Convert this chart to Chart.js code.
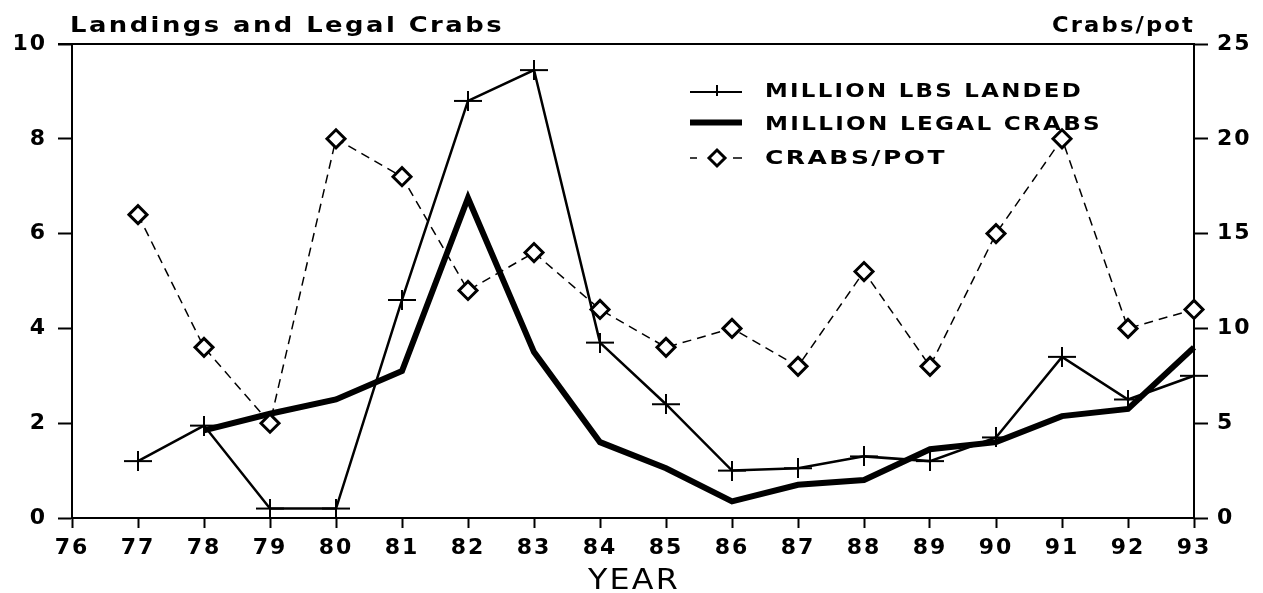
<!DOCTYPE html>
<html><head><meta charset="utf-8">
<script src="https://cdn.jsdelivr.net/npm/chart.js@4/dist/chart.umd.min.js"></script>
<style>html,body{margin:0;padding:0;background:#fff}#wrap{width:1263px;height:593px}</style>
</head><body><div id="wrap"><canvas id="c" width="1263" height="593"></canvas></div>
<script>
// ---- data ----
const years = [77,78,79,80,81,82,83,84,85,86,87,88,89,90,91,92,93];
const millionLbsLanded = [1.2,1.95,0.2,0.2,4.6,8.8,9.45,3.7,2.4,1.0,1.05,1.3,1.2,1.7,3.4,2.5,3.0];
const millionLegalCrabs = [null,1.85,2.2,2.5,3.1,6.75,3.5,1.6,1.05,0.35,0.7,0.8,1.45,1.6,2.15,2.3,3.6];
const crabsPerPot = [16,9,5,20,18,12,14,11,9,10,8,13,8,15,20,10,11];
const xTicks = [76,77,78,79,80,81,82,83,84,85,86,87,88,89,90,91,92,93];
const leftTicks = [0,2,4,6,8,10];
const rightTicks = [0,5,10,15,20,25];
const seriesNames = ['MILLION LBS LANDED','MILLION LEGAL CRABS','CRABS/POT'];
const leftTitle = 'Landings and Legal Crabs';
const rightTitle = 'Crabs/pot';
const xTitle = 'YEAR';

// ---- styles ----
const FONT = '"DejaVu Sans", "Liberation Sans", sans-serif';
Chart.defaults.font.family = FONT;
Chart.defaults.color = '#000';

function plusImg(w, h, lw) {
  const c = document.createElement('canvas');
  c.width = w; c.height = h;
  const g = c.getContext('2d');
  g.strokeStyle = '#000'; g.lineWidth = lw;
  g.beginPath();
  g.moveTo(0, h / 2); g.lineTo(w, h / 2);
  g.moveTo(w / 2, 0); g.lineTo(w / 2, h);
  g.stroke();
  return c;
}
const plus = plusImg(28, 20, 2);

const toXY = (arr) => years.map((yr, i) => ({x: yr, y: arr[i]}));

// draws text horizontally stretched (wide typeface look) to a target width
function wide(ctx, text, x, y, width, align, spacing) {
  ctx.letterSpacing = (spacing || 0) + 'px';
  const w = ctx.measureText(text).width;
  const k = width / w;
  let x0 = x;
  if (align === 'right') x0 = x - width;
  else if (align === 'center') x0 = x - width / 2;
  ctx.save();
  ctx.translate(x0, y);
  ctx.scale(k, 1);
  ctx.textAlign = 'left';
  ctx.fillText(text, 0, 0);
  ctx.restore();
  ctx.letterSpacing = '0px';
  return k;
}

const deco = {
  id: 'deco',
  beforeDraw(chart) { chart.ctx.letterSpacing = '2px'; },
  afterDraw(chart) {
    const ctx = chart.ctx, a = chart.chartArea;
    ctx.save();
    ctx.letterSpacing = '0px';
    ctx.strokeStyle = '#000';
    ctx.fillStyle = '#000';
    ctx.lineWidth = 2;
    ctx.beginPath(); ctx.moveTo(a.left - 14, a.top); ctx.lineTo(a.right, a.top); ctx.stroke();

    // titles
    ctx.textBaseline = 'alphabetic';
    ctx.font = 'bold 21px ' + FONT;
    wide(ctx, leftTitle, 70, 32, 434, 'left', 2);
    wide(ctx, rightTitle, 1195, 32, 143, 'right', 2);
    ctx.font = '29px ' + FONT;
    wide(ctx, xTitle, 634, 589, 92, 'center', 2);

    // legend
    const lx0 = 690, lx1 = 742, tx = 765;
    const textRows = [90.5, 123.5, 157.5];
    const textW = [318, 337, 182];
    const rows = [92, 122.5, 158];
    ctx.font = 'bold 20px ' + FONT;
    ctx.textBaseline = 'middle';
    seriesNames.forEach((n, i) => wide(ctx, n, tx, textRows[i] + 1, textW[i], 'left', 2));
    // row 1 sample
    ctx.lineWidth = 2;
    ctx.beginPath(); ctx.moveTo(lx0, rows[0]); ctx.lineTo(lx1, rows[0]);
    ctx.moveTo(717, rows[0] - 7); ctx.lineTo(717, rows[0] + 4); ctx.stroke();
    // row 2 sample
    ctx.lineWidth = 6;
    ctx.beginPath(); ctx.moveTo(lx0, rows[1]); ctx.lineTo(lx1, rows[1]); ctx.stroke();
    // row 3 sample
    ctx.lineWidth = 1.5;
    ctx.beginPath(); ctx.moveTo(690, rows[2]); ctx.lineTo(697, rows[2]);
    ctx.moveTo(733, rows[2]); ctx.lineTo(742, rows[2]); ctx.stroke();
    ctx.lineWidth = 3;
    ctx.fillStyle = '#fff';
    ctx.beginPath();
    const cx = 717, cy = rows[2], r = 8;
    ctx.moveTo(cx - r, cy); ctx.lineTo(cx, cy - r); ctx.lineTo(cx + r, cy); ctx.lineTo(cx, cy + r); ctx.closePath();
    ctx.fill(); ctx.stroke();
    ctx.restore();
  }
};

const axisBase = (ticksArr) => ({
  afterBuildTicks: s => { s.ticks = ticksArr.map(v => ({value: v})); },
  grid: {drawOnChartArea: false, drawTicks: true, tickLength: 14, tickWidth: 2, tickColor: '#000'},
  border: {display: true, color: '#000', width: 2},
  ticks: {color: '#000', font: {family: FONT, size: 22, weight: 'bold'}, padding: 6}
});

const xAxis = axisBase(xTicks);
xAxis.type = 'linear'; xAxis.position = 'bottom'; xAxis.min = 76; xAxis.max = 93;
xAxis.grid.tickLength = 10;
xAxis.ticks.padding = 7;
xAxis.afterFit = s => { s.height = 75; };

const yAxis = axisBase(leftTicks);
yAxis.type = 'linear'; yAxis.position = 'left'; yAxis.min = 0; yAxis.max = 10;
yAxis.ticks.padding = 11;
yAxis.afterFit = s => { s.width = 72; };

const y2Axis = axisBase(rightTicks);
y2Axis.type = 'linear'; y2Axis.position = 'right'; y2Axis.min = 0; y2Axis.max = 25;
y2Axis.ticks.padding = 9;
y2Axis.afterFit = s => { s.width = 69; };

new Chart(document.getElementById('c'), {
  type: 'line',
  data: {
    datasets: [
      {
        label: seriesNames[0], data: toXY(millionLbsLanded), yAxisID: 'y',
        borderColor: '#000', borderWidth: 2.5, tension: 0, clip: false,
        pointStyle: plus, pointRadius: 10, pointBorderColor: '#000', order: 1
      },
      {
        label: seriesNames[1], data: toXY(millionLegalCrabs), yAxisID: 'y',
        borderColor: '#000', borderWidth: 6, tension: 0, clip: false,
        pointRadius: 0, borderJoinStyle: 'miter', spanGaps: false, order: 2
      },
      {
        label: seriesNames[2], data: toXY(crabsPerPot), yAxisID: 'y2',
        borderColor: '#000', borderWidth: 1.5, borderDash: [9, 6], tension: 0, clip: false,
        pointStyle: 'rectRot', pointRadius: 9, pointBorderWidth: 3,
        pointBackgroundColor: '#fff', pointBorderColor: '#000', order: 0
      }
    ]
  },
  options: {
    responsive: false,
    animation: false,
    devicePixelRatio: 1,
    layout: {padding: {top: 44, left: 0, right: 0, bottom: 0}},
    plugins: {legend: {display: false}, tooltip: {enabled: false}, title: {display: false}},
    scales: {x: xAxis, y: yAxis, y2: y2Axis}
  },
  plugins: [deco]
});
</script>
</body></html>
